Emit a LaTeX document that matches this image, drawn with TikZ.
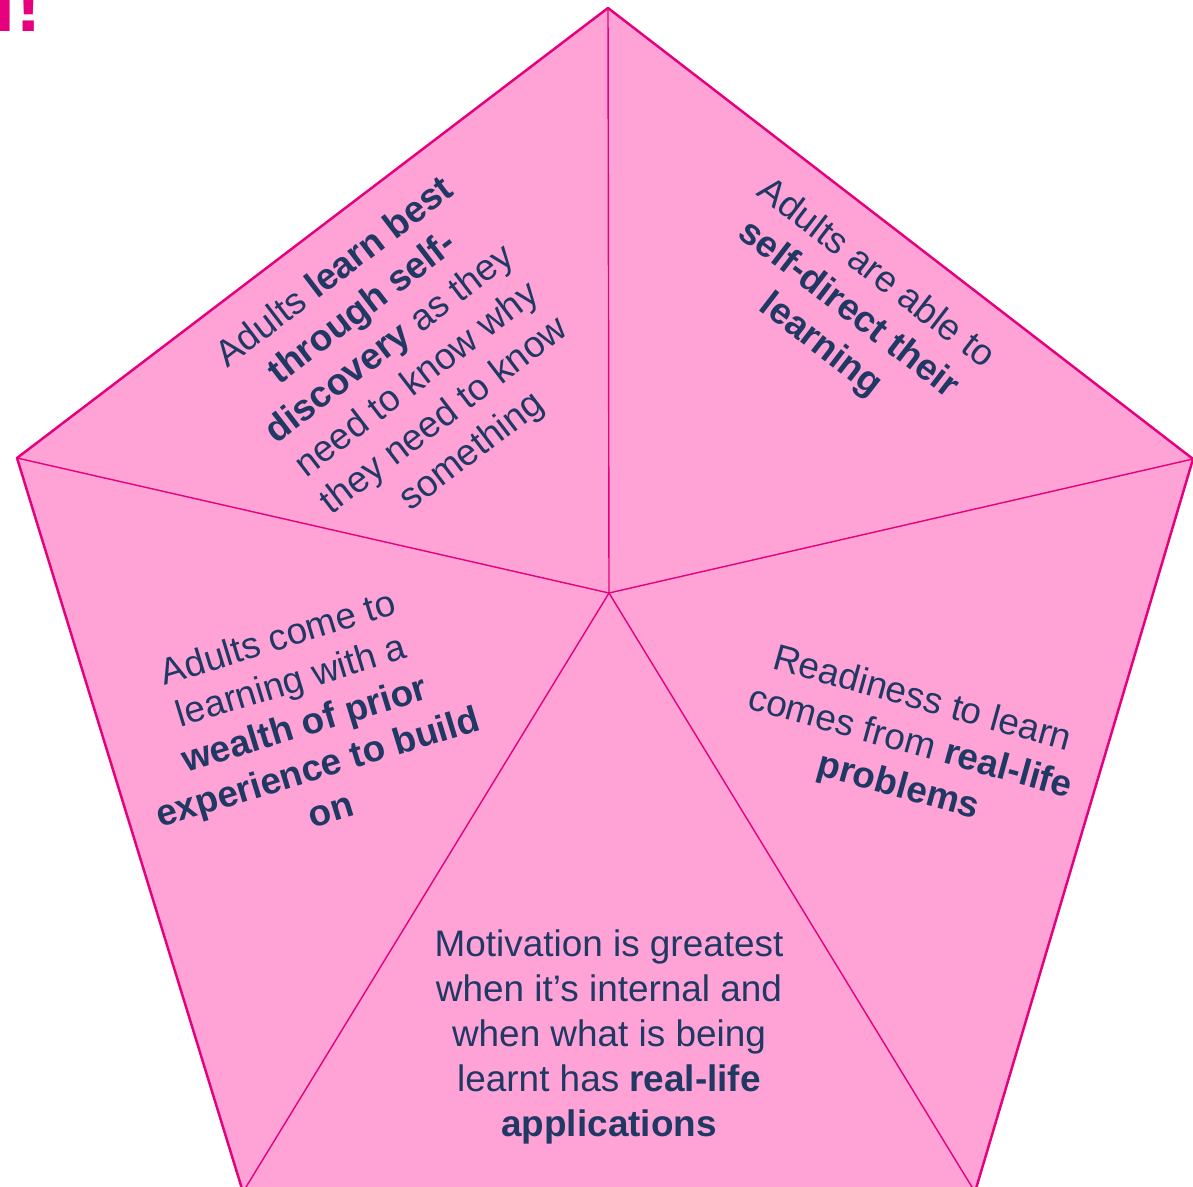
\documentclass[tikz,border=0pt]{standalone}
\usepackage{fontspec}
\setmainfont{Liberation Sans}
\definecolor{petal}{RGB}{255,163,215}
\definecolor{rim}{RGB}{230,0,126}
\definecolor{ink}{RGB}{31,56,100}

\begin{document}
\begin{tikzpicture}[line join=round,
  every node/.style={font=\fontsize{10.5}{12.8}\selectfont,text=ink,align=center,inner sep=0pt}]
\useasboundingbox (0,0) rectangle (11.93,11.86);
% ---------- corners of the pentagon and its hub ----------
\coordinate (T)  at (6.08,11.78);
\coordinate (R)  at (11.93,7.27);
\coordinate (BR) at (9.75,-0.06);
\coordinate (BL) at (2.43,-0.06);
\coordinate (L)  at (0.17,7.28);
\coordinate (C)  at (6.09,5.93);
% ---------- five petals, spokes thinner than the rim ----------
\foreach \a/\b in {T/R,R/BR,BR/BL,BL/L,L/T}{
  \fill[petal] (C) -- (\a) -- (\b) -- cycle;
}
\foreach \a in {T,R,BR,BL,L}{
  \draw[rim,line width=0.4pt] (C) -- (\a);
}
\draw[rim,line width=0.7pt] (T) -- (R) -- (BR) -- (BL) -- (L) -- cycle;
% ---------- heading, cut off by the page ----------
\node[anchor=base east,text=rim,font=\fontsize{22.8}{24}\selectfont\bfseries] (head) at (0.43,11.54) {l!};
% ---------- petal texts ----------
\node[rotate=37.4] (selfdisc) at (4.04,8.23)
  {Adults \textbf{learn best}\\ \textbf{through self-}\\ \textbf{discovery} as they\\ need to know why\\ they need to know\\ something};
\node[rotate=-37.6] (selfdir) at (8.48,8.76)
  {Adults are able to\\ \textbf{self-direct their}\\ \textbf{learning}};
\node[rotate=17] (prior) at (3.04,4.63)
  {Adults come to\\ learning with a\\ \textbf{wealth of prior}\\ \textbf{experience to build}\\ \textbf{on}};
\node[rotate=-15.5] (ready) at (9.10,4.42)
  {Readiness to learn\\ comes from \textbf{real-life}\\ \textbf{problems}};
\node (motive) at (6.09,1.49)
  {Motivation is greatest\\ when it’s internal and\\ when what is being\\ learnt has \textbf{real-life}\\ \textbf{applications}};
\end{tikzpicture}
\end{document}
